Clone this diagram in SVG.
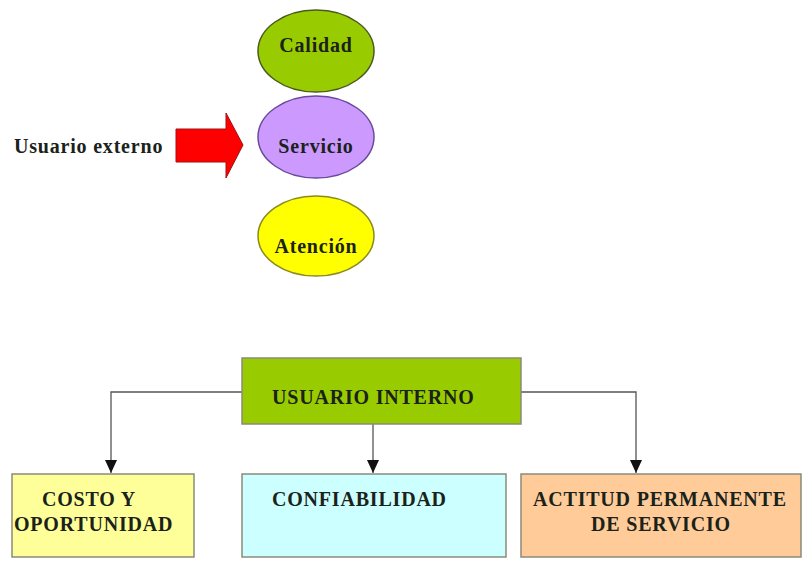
<svg xmlns="http://www.w3.org/2000/svg" width="803" height="564" viewBox="0 0 803 564">
<style>
.t{font-family:"Liberation Serif","Times New Roman",serif;font-weight:bold;font-size:20px;fill:#1a221a;letter-spacing:0.8px}
.box{stroke:#8a8a7a;stroke-width:1.5}
.conn{fill:none;stroke:#555;stroke-width:1.3}
</style>
<defs>
<marker id="ah" markerWidth="13" markerHeight="12" refX="13" refY="6" orient="auto" markerUnits="userSpaceOnUse" viewBox="0 0 13 12">
<path d="M0,0 L13,6 L0,12 Z" fill="#111"/>
</marker>
</defs>
<rect width="803" height="564" fill="#fff"/>
<g id="usuario-externo">
<text class="t" x="14" y="153" fill="#333">Usuario externo</text>
</g>
<g id="flecha">
<path d="M176,129 L226,129 L226,113 L243,145 L226,178 L226,162 L176,162 Z" fill="#ff0000" stroke="#a01010" stroke-width="1"/>
</g>
<g id="calidad">
<ellipse cx="316" cy="51" rx="58" ry="41" fill="#99cc00" stroke="#4a5a20" stroke-width="1.5"/>
<text class="t" x="316" y="52" text-anchor="middle">Calidad</text>
</g>
<g id="servicio">
<ellipse cx="316" cy="137" rx="58" ry="41" fill="#cc99ff" stroke="#6a4a9a" stroke-width="1.5"/>
<text class="t" x="316" y="153" text-anchor="middle" fill="#3a2a4a">Servicio</text>
</g>
<g id="atencion">
<ellipse cx="316" cy="236" rx="58" ry="40" fill="#ffff00" stroke="#8a8a20" stroke-width="1.5"/>
<text class="t" x="316" y="253" text-anchor="middle">Atención</text>
</g>
<g id="conectores">
<path class="conn" d="M242,392 L111,392 L111,473" marker-end="url(#ah)"/>
<path class="conn" d="M373,424 L373,473" marker-end="url(#ah)"/>
<path class="conn" d="M521,392 L636,392 L636,473" marker-end="url(#ah)"/>
</g>
<g id="usuario-interno">
<rect class="box" x="242" y="358" width="279" height="66" fill="#99cc00"/>
<text class="t" x="272" y="404">USUARIO INTERNO</text>
</g>
<g id="costo">
<rect class="box" x="12" y="474" width="182" height="83" fill="#ffff99"/>
<text class="t" x="42" y="506">COSTO Y</text>
<text class="t" x="14" y="531">OPORTUNIDAD</text>
</g>
<g id="confiabilidad">
<rect class="box" x="242" y="474" width="264" height="83" fill="#ccffff"/>
<text class="t" x="272" y="506" fill="#1a3a3a">CONFIABILIDAD</text>
</g>
<g id="actitud">
<rect class="box" x="521" y="474" width="280" height="83" fill="#ffcc99"/>
<text class="t" x="533" y="506" fill="#3a2a1a">ACTITUD PERMANENTE</text>
<text class="t" x="661" y="531" text-anchor="middle" fill="#3a2a1a">DE SERVICIO</text>
</g>
</svg>
